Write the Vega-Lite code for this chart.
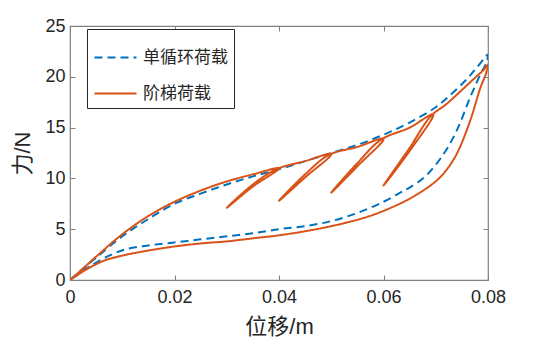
{
  "$schema": "https://vega.github.io/schema/vega-lite/v6.json",
  "width": 418,
  "height": 254,
  "autosize": {"type": "none"},
  "padding": {"left": 70, "top": 26, "right": 51, "bottom": 62},
  "background": "white",
  "config": {
    "font": "Liberation Sans, Noto Sans CJK SC, sans-serif",
    "view": {"stroke": "#808080", "strokeWidth": 1.2},
    "axis": {
      "domain": false,
      "grid": false,
      "labelFlush": false,
      "labelOverlap": false,
      "tickColor": "#808080",
      "tickSize": -5,
      "tickWidth": 1,
      "labelColor": "#262626",
      "labelFont": "Liberation Sans, sans-serif",
      "labelFontSize": 18,
      "titleColor": "#262626",
      "titleFont": "Liberation Sans, Noto Sans CJK SC, sans-serif",
      "titleFontSize": 22,
      "titleFontWeight": "normal"
    }
  },
  "data": {
    "values": [
      {"s": "单循环荷载", "o": 1, "x": 0, "y": 0},
      {"s": "单循环荷载", "o": 2, "x": 0.002, "y": 0.9},
      {"s": "单循环荷载", "o": 3, "x": 0.005, "y": 2.2},
      {"s": "单循环荷载", "o": 4, "x": 0.01, "y": 4.3},
      {"s": "单循环荷载", "o": 5, "x": 0.015, "y": 6.0},
      {"s": "单循环荷载", "o": 6, "x": 0.02, "y": 7.5},
      {"s": "单循环荷载", "o": 7, "x": 0.025, "y": 8.5},
      {"s": "单循环荷载", "o": 8, "x": 0.03, "y": 9.4},
      {"s": "单循环荷载", "o": 9, "x": 0.035, "y": 10.2},
      {"s": "单循环荷载", "o": 10, "x": 0.04, "y": 10.9},
      {"s": "单循环荷载", "o": 11, "x": 0.045, "y": 11.7},
      {"s": "单循环荷载", "o": 12, "x": 0.05, "y": 12.5},
      {"s": "单循环荷载", "o": 13, "x": 0.055, "y": 13.3},
      {"s": "单循环荷载", "o": 14, "x": 0.06, "y": 14.3},
      {"s": "单循环荷载", "o": 15, "x": 0.065, "y": 15.5},
      {"s": "单循环荷载", "o": 16, "x": 0.07, "y": 17.0},
      {"s": "单循环荷载", "o": 17, "x": 0.073, "y": 18.3},
      {"s": "单循环荷载", "o": 18, "x": 0.076, "y": 19.8},
      {"s": "单循环荷载", "o": 19, "x": 0.078, "y": 21.0},
      {"s": "单循环荷载", "o": 20, "x": 0.08, "y": 22.2},
      {"s": "单循环荷载", "o": 21, "x": 0.0796, "y": 21.3},
      {"s": "单循环荷载", "o": 22, "x": 0.0786, "y": 20.3},
      {"s": "单循环荷载", "o": 23, "x": 0.0766, "y": 18.0},
      {"s": "单循环荷载", "o": 24, "x": 0.0741, "y": 14.8},
      {"s": "单循环荷载", "o": 25, "x": 0.0715, "y": 12.4},
      {"s": "单循环荷载", "o": 26, "x": 0.068, "y": 10.2},
      {"s": "单循环荷载", "o": 27, "x": 0.065, "y": 9.1},
      {"s": "单循环荷载", "o": 28, "x": 0.0632, "y": 8.6},
      {"s": "单循环荷载", "o": 29, "x": 0.06, "y": 7.7},
      {"s": "单循环荷载", "o": 30, "x": 0.055, "y": 6.6},
      {"s": "单循环荷载", "o": 31, "x": 0.05, "y": 5.8},
      {"s": "单循环荷载", "o": 32, "x": 0.045, "y": 5.3},
      {"s": "单循环荷载", "o": 33, "x": 0.04, "y": 5.0},
      {"s": "单循环荷载", "o": 34, "x": 0.035, "y": 4.6},
      {"s": "单循环荷载", "o": 35, "x": 0.03, "y": 4.3},
      {"s": "单循环荷载", "o": 36, "x": 0.025, "y": 4.0},
      {"s": "单循环荷载", "o": 37, "x": 0.02, "y": 3.7},
      {"s": "单循环荷载", "o": 38, "x": 0.015, "y": 3.4},
      {"s": "单循环荷载", "o": 39, "x": 0.0105, "y": 3.0},
      {"s": "单循环荷载", "o": 40, "x": 0.0075, "y": 2.4},
      {"s": "单循环荷载", "o": 41, "x": 0.004, "y": 1.4},
      {"s": "单循环荷载", "o": 42, "x": 0, "y": 0},

      {"s": "阶梯荷载", "o": 1, "x": 0, "y": 0},
      {"s": "阶梯荷载", "o": 2, "x": 0.002, "y": 0.9},
      {"s": "阶梯荷载", "o": 3, "x": 0.005, "y": 2.3},
      {"s": "阶梯荷载", "o": 4, "x": 0.01, "y": 4.5},
      {"s": "阶梯荷载", "o": 5, "x": 0.015, "y": 6.3},
      {"s": "阶梯荷载", "o": 6, "x": 0.02, "y": 7.7},
      {"s": "阶梯荷载", "o": 7, "x": 0.025, "y": 8.8},
      {"s": "阶梯荷载", "o": 8, "x": 0.03, "y": 9.7},
      {"s": "阶梯荷载", "o": 9, "x": 0.035, "y": 10.4},
      {"s": "阶梯荷载", "o": 10, "x": 0.04, "y": 11.0},
      {"s": "阶梯荷载", "o": 11, "x": 0.035, "y": 9.2},
      {"s": "阶梯荷载", "o": 12, "x": 0.03, "y": 7.1},
      {"s": "阶梯荷载", "o": 13, "x": 0.035, "y": 9.4},
      {"s": "阶梯荷载", "o": 14, "x": 0.0395, "y": 10.9},
      {"s": "阶梯荷载", "o": 15, "x": 0.045, "y": 11.7},
      {"s": "阶梯荷载", "o": 16, "x": 0.05, "y": 12.4},
      {"s": "阶梯荷载", "o": 17, "x": 0.045, "y": 10.1},
      {"s": "阶梯荷载", "o": 18, "x": 0.04, "y": 7.8},
      {"s": "阶梯荷载", "o": 19, "x": 0.045, "y": 10.4},
      {"s": "阶梯荷载", "o": 20, "x": 0.0495, "y": 12.3},
      {"s": "阶梯荷载", "o": 21, "x": 0.055, "y": 13.1},
      {"s": "阶梯荷载", "o": 22, "x": 0.06, "y": 13.9},
      {"s": "阶梯荷载", "o": 23, "x": 0.055, "y": 11.2},
      {"s": "阶梯荷载", "o": 24, "x": 0.05, "y": 8.6},
      {"s": "阶梯荷载", "o": 25, "x": 0.055, "y": 11.5},
      {"s": "阶梯荷载", "o": 26, "x": 0.0595, "y": 13.8},
      {"s": "阶梯荷载", "o": 27, "x": 0.065, "y": 15.0},
      {"s": "阶梯荷载", "o": 28, "x": 0.0695, "y": 16.3},
      {"s": "阶梯荷载", "o": 29, "x": 0.065, "y": 12.7},
      {"s": "阶梯荷载", "o": 30, "x": 0.06, "y": 9.3},
      {"s": "阶梯荷载", "o": 31, "x": 0.065, "y": 13.0},
      {"s": "阶梯荷载", "o": 32, "x": 0.069, "y": 16.1},
      {"s": "阶梯荷载", "o": 33, "x": 0.072, "y": 17.3},
      {"s": "阶梯荷载", "o": 34, "x": 0.075, "y": 18.7},
      {"s": "阶梯荷载", "o": 35, "x": 0.0775, "y": 19.9},
      {"s": "阶梯荷载", "o": 36, "x": 0.0792, "y": 20.7},
      {"s": "阶梯荷载", "o": 37, "x": 0.08, "y": 21.2},
      {"s": "阶梯荷载", "o": 38, "x": 0.0796, "y": 20.3},
      {"s": "阶梯荷载", "o": 39, "x": 0.0786, "y": 19.0},
      {"s": "阶梯荷载", "o": 40, "x": 0.0766, "y": 15.7},
      {"s": "阶梯荷载", "o": 41, "x": 0.0741, "y": 12.5},
      {"s": "阶梯荷载", "o": 42, "x": 0.072, "y": 10.8},
      {"s": "阶梯荷载", "o": 43, "x": 0.0702, "y": 9.8},
      {"s": "阶梯荷载", "o": 44, "x": 0.0657, "y": 8.2},
      {"s": "阶梯荷载", "o": 45, "x": 0.06, "y": 6.8},
      {"s": "阶梯荷载", "o": 46, "x": 0.0555, "y": 6.0},
      {"s": "阶梯荷载", "o": 47, "x": 0.05, "y": 5.3},
      {"s": "阶梯荷载", "o": 48, "x": 0.045, "y": 4.8},
      {"s": "阶梯荷载", "o": 49, "x": 0.04, "y": 4.4},
      {"s": "阶梯荷载", "o": 50, "x": 0.035, "y": 4.1},
      {"s": "阶梯荷载", "o": 51, "x": 0.03, "y": 3.8},
      {"s": "阶梯荷载", "o": 52, "x": 0.025, "y": 3.6},
      {"s": "阶梯荷载", "o": 53, "x": 0.02, "y": 3.3},
      {"s": "阶梯荷载", "o": 54, "x": 0.015, "y": 2.9},
      {"s": "阶梯荷载", "o": 55, "x": 0.01, "y": 2.4},
      {"s": "阶梯荷载", "o": 56, "x": 0.0065, "y": 1.9},
      {"s": "阶梯荷载", "o": 57, "x": 0.003, "y": 1.0},
      {"s": "阶梯荷载", "o": 58, "x": 0, "y": 0}
    ]
  },
  "layer": [
    {
      "mark": {"type": "line", "interpolate": "catmull-rom", "strokeWidth": 2, "clip": true},
      "encoding": {
        "x": {
          "field": "x", "type": "quantitative",
          "scale": {"domain": [0, 0.08], "nice": false},
          "axis": {"title": "位移/m", "values": [0, 0.02, 0.04, 0.06, 0.08], "format": "~g", "labelPadding": 13, "titlePadding": 10}
        },
        "y": {
          "field": "y", "type": "quantitative",
          "scale": {"domain": [0, 25], "nice": false},
          "axis": {"title": "力/N", "values": [0, 5, 10, 15, 20, 25], "labelPadding": 10, "titlePadding": 10}
        },
        "order": {"field": "o", "type": "quantitative"},
        "color": {
          "field": "s", "type": "nominal",
          "scale": {"domain": ["单循环荷载", "阶梯荷载"], "range": ["#0072BD", "#D95319"]},
          "legend": {
            "title": null,
            "orient": "none",
            "legendX": 17,
            "legendY": 3,
            "symbolType": "stroke",
            "symbolSize": 1764,
            "symbolStrokeWidth": 2.2,
            "labelFontSize": 17,
            "labelFont": "Noto Sans CJK SC, sans-serif",
            "labelColor": "#262626",
            "labelOffset": 5,
            "labelLimit": 300,
            "rowPadding": 5,
            "padding": 6,
            "strokeColor": "#262626",
            "fillColor": "white"
          }
        },
        "strokeDash": {
          "field": "s", "type": "nominal",
          "scale": {"domain": ["单循环荷载", "阶梯荷载"], "range": [[8, 5], [1, 0]]},
          "legend": {
            "title": null,
            "orient": "none",
            "legendX": 17,
            "legendY": 3,
            "symbolType": "stroke",
            "symbolSize": 1764,
            "symbolStrokeWidth": 2.2,
            "labelFontSize": 17,
            "labelFont": "Noto Sans CJK SC, sans-serif",
            "labelColor": "#262626",
            "labelOffset": 5,
            "labelLimit": 300,
            "rowPadding": 5,
            "padding": 6,
            "strokeColor": "#262626",
            "fillColor": "white"
          }
        }
      }
    },
    {
      "mark": {"type": "rule", "opacity": 0},
      "encoding": {
        "x": {
          "datum": 0, "type": "quantitative",
          "scale": {"domain": [0, 0.08], "nice": false},
          "axis": {"orient": "top", "title": null, "labels": false, "values": [0, 0.02, 0.04, 0.06, 0.08]}
        },
        "y": {
          "datum": 0, "type": "quantitative",
          "scale": {"domain": [0, 25], "nice": false},
          "axis": {"orient": "right", "title": null, "labels": false, "values": [0, 5, 10, 15, 20, 25]}
        }
      }
    }
  ],
  "resolve": {"axis": {"x": "independent", "y": "independent"}}
}
